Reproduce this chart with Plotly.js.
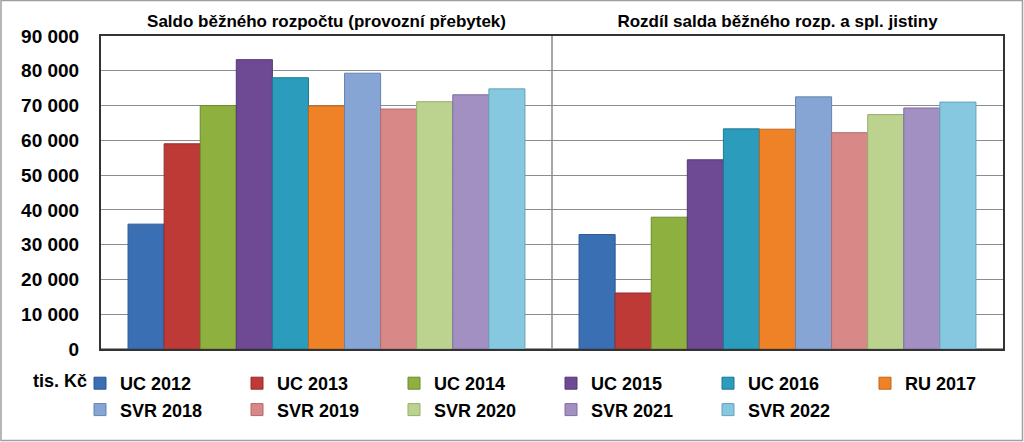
<!DOCTYPE html>
<html>
<head>
<meta charset="utf-8">
<script src="https://cdn.plot.ly/plotly-3.0.1.min.js"></script>
<style>
html,body{margin:0;padding:0;background:#fff;}
#chart{width:1024px;height:442px;}
</style>
</head>
<body>
<div id="chart"></div>
<script>
var categories = ["Saldo běžného rozpočtu (provozní přebytek)", "Rozdíl salda běžného rozp. a spl. jistiny"];
var seriesNames = ["UC 2012","UC 2013","UC 2014","UC 2015","UC 2016","RU 2017","SVR 2018","SVR 2019","SVR 2020","SVR 2021","SVR 2022"];
var saldo =   [35900, 59000, 70000, 83200, 78000, 69900, 79300, 69000, 71100, 73100, 74800];
var rozdil =  [32900, 16100, 37900, 54400, 63300, 63200, 72500, 62200, 67400, 69300, 71000];
var colors = ["#3A6FB4","#BE3A37","#8DB03E","#6F4A94","#2B9CBB","#EF8226","#86A5D4","#D98888","#BBD38E","#A290C2","#86C8DF"];
var lineColors = ["#2C5690","#962C2A","#6E8A2F","#553872","#1F7890","#BF651B","#6783AE","#B06B6B","#97AD6F","#7F6F9E","#66A3B8"];
var yTicks = [0,10000,20000,30000,40000,50000,60000,70000,80000,90000];

var FONT = "'Liberation Sans Narrow', 'Liberation Sans', Arial, sans-serif";

var traces = seriesNames.map(function(n,i){
  return {
    type:'bar', name:n, x:categories, y:[saldo[i], rozdil[i]],
    marker:{color:colors[i], line:{color:lineColors[i], width:1}},
    hoverinfo:'y+name'
  };
});

var L=101, R=21, T=36, B=93, W=1024, H=442;
var pw = W-L-R, ph = H-T-B;

var layout = {
  width:W, height:H,
  margin:{l:L, r:R, t:T, b:B, pad:0, autoexpand:false},
  paper_bgcolor:'#fff', plot_bgcolor:'#fff',
  separators:', ',
  barmode:'group', bargap:0.12, bargroupgap:0,
  font:{family:FONT, color:'#000'},
  xaxis:{
    side:'top', type:'category',
    tickson:'boundaries', ticks:'', showgrid:true, gridcolor:'#A6A6A6', gridwidth:2,
    showline:true, linecolor:'#333', linewidth:2, mirror:true,
    tickfont:{family:FONT, size:17, weight:'bold', color:'#000'},
    automargin:false, fixedrange:true
  },
  yaxis:{
    range:[0,90000], tickvals:yTicks, tickformat:',d',
    showgrid:true, gridcolor:'#8C8C8C', gridwidth:1,
    showline:true, linecolor:'#333', linewidth:2, mirror:true,
    zeroline:true, zerolinecolor:'#999', zerolinewidth:2,
    ticks:'', ticklabelstandoff:16,
    tickfont:{family:FONT, size:19, weight:'bold', color:'#000'},
    automargin:false, fixedrange:true
  },
  showlegend:true,
  legend:{
    orientation:'h', x:(80-L)/pw, xanchor:'left', y:(349-365)/ph, yanchor:'top',
    entrywidth:112, entrywidthmode:'pixels', itemwidth:30,
    font:{family:FONT, size:18, weight:'bold', color:'#000'},
    bgcolor:'rgba(0,0,0,0)', traceorder:'normal'
  },
  annotations:[{
    text:'<b>tis. Kč</b>', xref:'paper', yref:'paper',
    x:(31-L)/pw, xanchor:'left', y:(349-381)/ph, yanchor:'middle',
    showarrow:false, font:{family:FONT, size:18, color:'#000'}
  }],
  shapes:[{
    type:'rect', xref:'paper', yref:'paper',
    x0:(1-L)/pw, x1:(1022.5-L)/pw, y0:(349-440.5)/ph, y1:(349-0.5)/ph,
    line:{color:'#A0A0A0', width:1.5}, fillcolor:'rgba(0,0,0,0)', layer:'below'
  }]
};

Plotly.newPlot('chart', traces, layout, {displayModeBar:false, staticPlot:true});
</script>
</body>
</html>
